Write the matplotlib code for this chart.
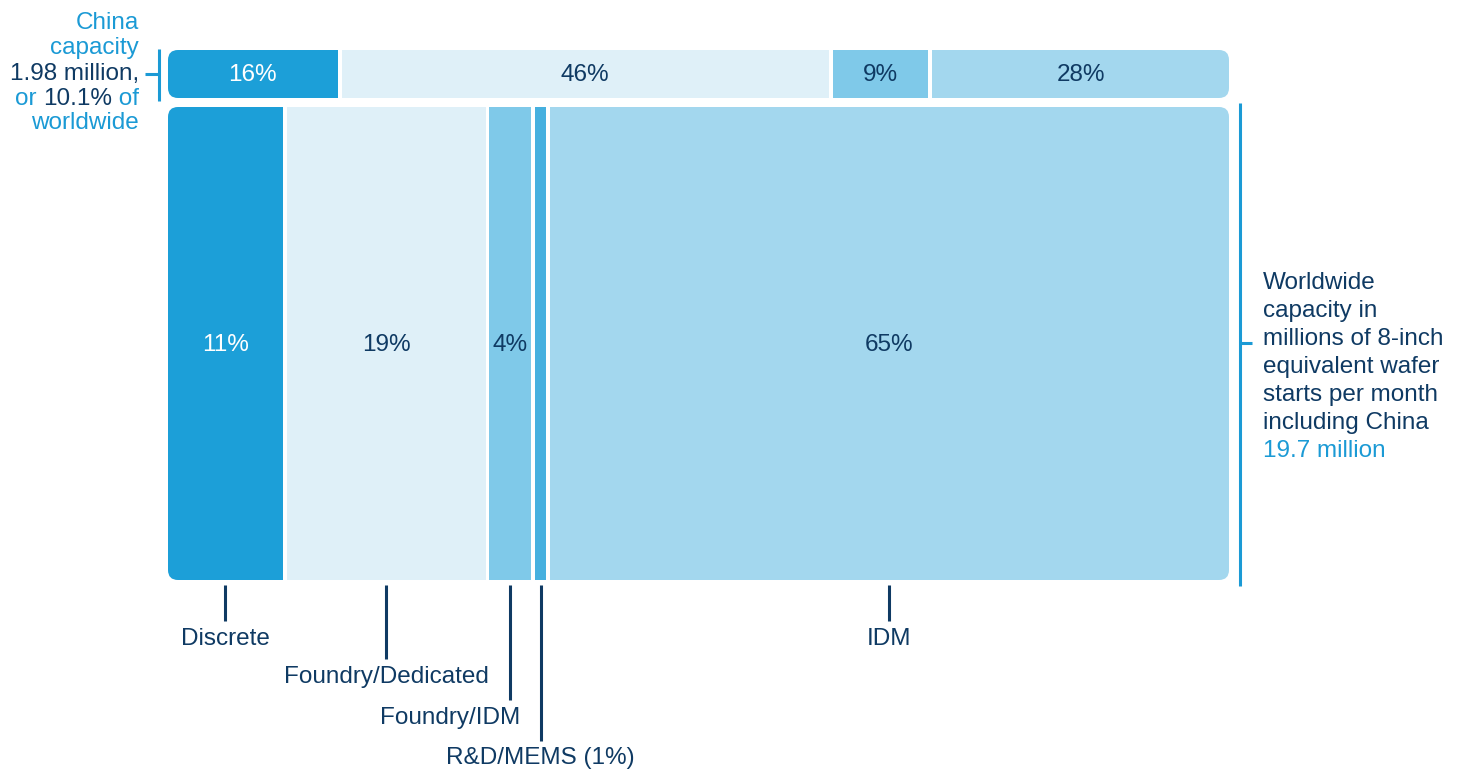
import matplotlib.pyplot as plt
from matplotlib.patches import FancyBboxPatch
from matplotlib import transforms

# capacity shares by fab type
segments = ["Discrete", "Foundry/Dedicated", "Foundry/IDM", "R&D/MEMS", "IDM"]
world_share = [11, 19, 4, 1, 65]
china_segments = ["Discrete", "Foundry/Dedicated", "Foundry/IDM", "IDM"]
china_share = [16, 46, 9, 28]

bottom_labels = ["Discrete", "Foundry/Dedicated", "Foundry/IDM", "R&D/MEMS (1%)", "IDM"]

colors = {
    "Discrete": "#1c9fd8",
    "Foundry/Dedicated": "#dff0f8",
    "Foundry/IDM": "#7fc9e9",
    "R&D/MEMS": "#46b0df",
    "IDM": "#a3d7ee",
}
NAVY = "#0f3a63"
BLUE = "#1b9ad5"
FS = 17.5

plt.rcParams["font.family"] = ["Liberation Sans", "DejaVu Sans"]

fig = plt.figure(figsize=(14.71, 7.72), dpi=100)
ax = fig.add_axes([0, 0, 1, 1])
# x is percent of the bar width, y is in pixels from the top
px = 1061 / 100.0
ax.set_xlim(-168 / px, (1471 - 168) / px)
ax.set_ylim(772, 0)
ax.axis("off")

GAP = 4 / px


def draw_bar(names, values, y0, h):
    total = sum(values)
    scale = (100 - GAP * (len(values) - 1)) / total
    widths = [v * scale for v in values]
    lefts = [sum(widths[:i]) + GAP * i for i in range(len(widths))]
    bars = ax.barh(y0 + h / 2, widths, left=lefts, height=h,
                   color=[colors[n] for n in names], linewidth=0)
    # round off the outer corners of the whole bar
    r = 10 / px
    clip = FancyBboxPatch((0, y0), 100, h, boxstyle=f"round,pad=0,rounding_size={r}",
                          mutation_aspect=px, transform=ax.transData)
    for b in bars:
        b.set_clip_path(clip)
    return lefts, widths


# China bar
lefts, widths = draw_bar(china_segments, china_share, 50, 48)
for name, v, l, w in zip(china_segments, china_share, lefts, widths):
    c = "white" if name == "Discrete" else NAVY
    ax.text(l + w / 2, 75, f"{v}%", ha="center", va="center", fontsize=FS, color=c)

# Worldwide bar
w_lefts, w_widths = draw_bar(segments, world_share, 107, 473)
for name, v, l, w in zip(segments, world_share, w_lefts, w_widths):
    if v < 2:
        continue
    c = "white" if name == "Discrete" else NAVY
    ax.text(l + w / 2, 345, f"{v}%", ha="center", va="center", fontsize=FS, color=c)

# leader lines and segment names under the bar
line_ends = [621, 659, 700, 741, 621]
label_y = [639, 677, 718, 758, 639]
label_shift = [0, 0, -60, 0, 0]
for l, w, end, ly, shift, lab in zip(w_lefts, w_widths, line_ends, label_y, label_shift, bottom_labels):
    xc = l + w / 2
    ax.plot([xc, xc], [585, end], color=NAVY, lw=2.2, solid_capstyle="butt")
    ax.text(xc + shift / px, ly, lab, ha="center", va="center", fontsize=FS, color=NAVY)

# left bracket for China
xb = -9 / px
ax.plot([xb, xb], [49, 101], color=BLUE, lw=2.2, solid_capstyle="butt")
ax.plot([-23 / px, xb], [74, 74], color=BLUE, lw=2.2, solid_capstyle="butt")

# right bracket for worldwide
xr = 100 + 11 / px
ax.plot([xr, xr], [103, 586], color=BLUE, lw=2.2, solid_capstyle="butt")
ax.plot([xr, xr + 12 / px], [343, 343], color=BLUE, lw=2.2, solid_capstyle="butt")

# left annotation, right aligned with mixed colours
renderer = fig.canvas.get_renderer()
left_lines = [
    [("China", BLUE)],
    [("capacity", BLUE)],
    [("1.98 million,", NAVY)],
    [("or ", BLUE), ("10.1%", NAVY), (" of", BLUE)],
    [("worldwide", BLUE)],
]
left_y = [23, 48, 74, 99, 123]
x_right = -29 / px
for parts, y in zip(left_lines, left_y):
    trans = ax.transData
    x = x_right
    for txt, c in reversed(parts):
        t = ax.text(x, y, txt, ha="right", va="center", fontsize=FS, color=c, transform=trans)
        ext = t.get_window_extent(renderer)
        trans = transforms.offset_copy(trans, fig=fig, x=-ext.width, units="dots")

# right annotation
right_lines = ["Worldwide", "capacity in", "millions of 8-inch", "equivalent wafer",
               "starts per month", "including China", "19.7 million"]
for i, txt in enumerate(right_lines):
    c = BLUE if i == len(right_lines) - 1 else NAVY
    ax.text(100 + 34 / px, 283 + 28 * i, txt, ha="left", va="center", fontsize=FS, color=c)

fig.savefig("out.png", dpi=100)
